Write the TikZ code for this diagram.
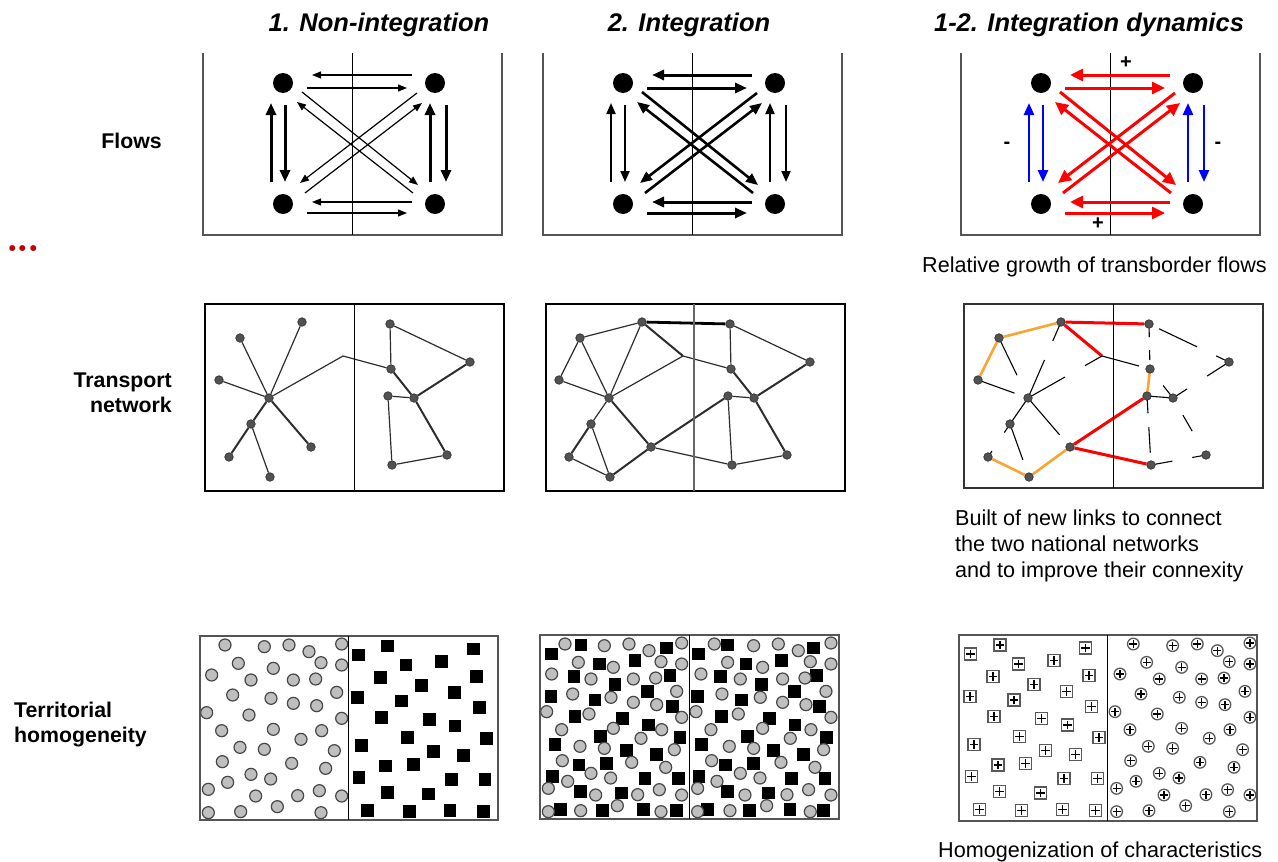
\documentclass[tikz,border=0pt]{standalone}
\usepackage{fontspec}
\setmainfont{Liberation Sans}
\usetikzlibrary{arrows.meta,calc}
\pgfdeclarelayer{edges}
\pgfsetlayers{edges,main}
\definecolor{dred}{RGB}{192,0,0}
\definecolor{orng}{RGB}{250,165,50}
\definecolor{fgray}{RGB}{85,85,85}
\definecolor{egray}{RGB}{45,45,45}
\definecolor{flred}{RGB}{255,0,0}
\definecolor{flblue}{RGB}{0,0,255}

\tikzset{
 frame/.style={draw=fgray, line width=1.4pt},
 midline/.style={draw=black, line width=1pt},
 boxframe/.style={draw=fgray, line width=1.6pt},
 fdot/.style={circle, fill=black, minimum size=20pt, inner sep=0pt},
 tdot/.style={circle, fill=black!68, draw=black!80, line width=0.7pt, minimum size=8.5pt, inner sep=0pt},
 thinflow/.style={line width=1.2pt, -{Triangle[length=9pt,width=7pt]}},
 thickflow/.style={line width=3pt, -{Triangle[length=12pt,width=10pt]}},
 medflow/.style={line width=2.6pt, -{Triangle[length=12pt,width=10pt]}},
 lightflow/.style={line width=2pt, -{Triangle[length=11pt,width=9pt]}},
 redflow/.style={line width=3pt, flred, -{Triangle[length=13pt,width=12pt]}},
 blueflow/.style={line width=2.5pt, flblue, -{Triangle[length=12pt,width=10pt]}},
 tline/.style={draw=egray, line width=1.2pt},
 tthick/.style={draw=egray, line width=2pt},
 tbold/.style={draw=black, line width=2.8pt},
 orline/.style={draw=orng, line width=2.6pt},
 rdline/.style={draw=flred, line width=3pt},
 fragline/.style={draw=black, line width=1.1pt},
 gcirc/.style={fill=black!25, draw=black!72, line width=1.2pt},
 psq/.style={fill=white, draw=black!65, line width=1.3pt},
 pluslines/.style={draw=black, line width=1.3pt},
 hdr/.style={font=\fontsize{25.5}{30}\selectfont\bfseries\itshape, inner sep=0pt},
 rowlab/.style={font=\fontsize{21.3}{25}\selectfont\bfseries, inner sep=0pt},
 caption/.style={font=\fontsize{21.6}{26}\selectfont, inner sep=0pt},
 sign/.style={font=\fontsize{20}{24}\selectfont\bfseries, inner sep=0pt},
}

\newcommand\flowpanel[5]{%
\begin{scope}[shift={(#2,0)}]
\draw[frame] (203,53) -- (203,235) -- (502,235) -- (502,53);
\draw[midline] (352,53) -- (352,235);
\node[fdot] (#1tl) at (283,83) {};
\node[fdot] (#1tr) at (435,83) {};
\node[fdot] (#1bl) at (283,204) {};
\node[fdot] (#1br) at (435,204) {};
\draw[#3] ($(#1tr)+(-23,-8)$) -- ($(#1tl)+(29,-8)$);
\draw[#3] ($(#1tl)+(24,5)$) -- ($(#1tr)+(-28,5)$);
\draw[#3] ($(#1br)+(-23,-2)$) -- ($(#1bl)+(29,-2)$);
\draw[#3] ($(#1bl)+(24,9)$) -- ($(#1br)+(-28,9)$);
\draw[#5] ($(#1bl)+(-12,-22)$) -- ($(#1tl)+(-12,20)$);
\draw[#5] ($(#1tl)+(2,22)$) -- ($(#1bl)+(2,-22)$);
\draw[#5] ($(#1br)+(-5,-22)$) -- ($(#1tr)+(-5,20)$);
\draw[#5] ($(#1tr)+(11,22)$) -- ($(#1br)+(11,-22)$);
\draw[#4] ($(#1br)+(-22,-11)$) -- ($(#1tl)+(14,19)$);
\draw[#4] ($(#1tl)+(19,9)$) -- ($(#1br)+(-17,-19)$);
\draw[#4] ($(#1bl)+(22,-11)$) -- ($(#1tr)+(-13,20)$);
\draw[#4] ($(#1tr)+(-18,10)$) -- ($(#1bl)+(17,-21)$);
\end{scope}}

\newcommand\netnodes[2]{%
\foreach \n/\x/\y in {A/302/322,B/240/338,C/219/380,H/269/398,D/251/424,E/229/457,F/270/477,G/311/447,R1/390/324,R2/470/362,R3/391/369,R4/414/398,R5/388/396,R6/447/455,R7/392/465}
 {\node[tdot] (#1\n) at ({\x+#2},\y) {};}
\coordinate (#1K) at ({343+#2},356);}

\newcommand\netedges[2]{\foreach \a/\b in {#2} {\draw[#1] (\a) -- (\b);}}

\newcommand\Cpts{75/27,193/32,267/27,327/47,425/24,115/82,220/97,363/80,425/87,35/117,153/132,280/132,347/129,98/177,213/187,410/169,280/202,350/209,20/230,147/237,425/247,65/284,220/280,365/284,303/310,120/334,193/340,403/344,67/377,275/382,377/397,153/415,212/429,83/439,25/460,167/480,293/479,358/464,425/480,25/530,122/527,232/512,363/530}
\newcommand\Spts{475/57,563/30,820/39,618/87,725/77,542/124,830/122,665/149,763/170,473/185,605/195,838/214,545/245,688/250,765/270,622/304,860/307,485/329,700/347,790/359,557/390,640/385,477/425,755/430,855/430,562/470,685/474,502/524,628/527,750/524,850/527}

\newcommand\graydots[2]{\foreach \x/\y in \Cpts {\filldraw[gcirc] ({#1+\x/3},{#2+\y/3}) circle[radius=6pt];}}
\newcommand\blacksq[2]{\foreach \x/\y in \Spts {\fill[black] ({#1+\x/3},{#2+\y/3}) ++(-6.3pt,-6.3pt) rectangle ++(12.6pt,12.6pt);}}
\newcommand\plussq[2]{\foreach \x/\y in \Spts {%
 \filldraw[psq] ({#1+\x/3},{#2+\y/3}) ++(-6pt,-6pt) rectangle ++(12pt,12pt);
 \draw[pluslines] ({#1+\x/3},{#2+\y/3}) ++(-4.3pt,0pt) -- ++(8.6pt,0pt) ++(-4.3pt,-4.3pt) -- ++(0pt,8.6pt);}}
\newcommand\pluscirc[2]{\foreach \x/\y in \Cpts {%
 \filldraw[psq] ({#1+\x/3},{#2+\y/3}) circle[radius=5.8pt];
 \draw[pluslines] ({#1+\x/3},{#2+\y/3}) ++(-4pt,0pt) -- ++(8pt,0pt) ++(-4pt,-4pt) -- ++(0pt,8pt);}}

\begin{document}
\begin{tikzpicture}[x=1pt,y=-1pt]
\useasboundingbox (0,0) rectangle (1278,862);

% headers
\node[hdr, anchor=base] (h1) at (379,31) {1. Non-integration};
\node[hdr, anchor=base] (h2) at (689,31) {2. Integration};
\node[hdr, anchor=base] (h3) at (1089,31) {1-2. Integration dynamics};

% row labels
\node[rowlab, anchor=base east] (lflows) at (162,148) {Flows};
\node[rowlab, anchor=base east] (ltrans) at (172,387) {Transport};
\node[rowlab, anchor=base east] (lnet) at (172,412) {network};
\node[rowlab, anchor=base west] (lterr) at (14,717) {Territorial};
\node[rowlab, anchor=base west] (lhom) at (14,742) {homogeneity};
\node[anchor=base west, inner sep=0pt, text=dred, font=\fontfamily{lmr}\fontsize{38}{40}\selectfont\bfseries] (dots) at (7,251) {...};

% captions
\node[caption, anchor=base west] (cap1) at (922,272) {Relative growth of transborder flows};
\node[caption, anchor=base west] (cap2a) at (955,525) {Built of new links to connect};
\node[caption, anchor=base west] (cap2b) at (955,551) {the two national networks};
\node[caption, anchor=base west] (cap2c) at (955,577) {and to improve their connexity};
\node[caption, anchor=base west] (cap3) at (938,857) {Homogenization of characteristics};

% ---------- flows ----------
\flowpanel{p}{0}{thinflow}{thinflow}{thickflow}
\flowpanel{q}{340}{thickflow}{medflow}{lightflow}
\flowpanel{r}{758}{redflow}{redflow}{blueflow}
\node[sign] (plusT) at (1126,63) {+};
\node[sign] (plusB) at (1098,224) {+};
\node[sign] (minusL) at (1007,145) {-};
\node[sign] (minusR) at (1218,145) {-};

% ---------- transport ----------
\draw[boxframe, draw=black] (205,304) rectangle (504,491);
\draw[midline] (354,304) -- (354,491);
\draw[boxframe, draw=black] (546,304) rectangle (845,491);
\draw[midline, draw=black!60, line width=1.6pt] (694,304) -- (694,491);
\draw[boxframe, draw=black!80] (964,304) rectangle (1263,488);
\draw[midline] (1113,304) -- (1113,488);

\netnodes{a}{0}
\netnodes{b}{340}
\netnodes{c}{759}

\begin{pgfonlayer}{edges}
\netedges{tline}{aA/aH,aB/aH,aC/aH,aH/aK,aK/aR3,aR3/aR1,aR1/aR2,aR4/aR5,aR5/aR7,aR7/aR6,aD/aF}
\netedges{tthick}{aH/aD,aD/aE,aH/aG,aR3/aR4,aR4/aR2,aR6/aR4}

\netedges{tline}{bA/bB,bB/bC,bC/bH,bB/bH,bA/bH,bK/bH,bK/bR3,bR1/bR2,bR1/bR3,bR4/bR5,bR5/bR7,bR7/bR6,bH/bD,bD/bF,bE/bF,bG/bR7}
\netedges{tthick}{bA/bK,bR3/bR4,bR4/bR2,bR6/bR4,bH/bG,bD/bE,bF/bG,bG/bR5}
\netedges{tbold}{bA/bR1}

\netedges{orline}{cB/cA,cB/cC,cE/cF,cF/cG,cR3/cR5}
\netedges{rdline}{cA/cR1,cA/cK,cG/cR5,cG/cR7}
\foreach \a/\b/\s/\t in {cA/cH/0/0.25,cH/cA/0/0.5,cB/cH/0/0.62,cC/cH/0/0.73,cH/cK/0/0.5,cK/cH/0/0.23,cK/cR3/0/0.77,cH/cD/0/1,cD/cE/0/0.26,cE/cD/0/0.18,cD/cF/0.08/0.68,cH/cG/0/0.75,cR1/cR3/0/0.29,cR1/cR3/0.58/0.8,cR1/cR2/0.125/0.6,cR1/cR2/0.84/1,cR2/cR4/0/0.39,cR2/cR4/0.75/1,cR4/cR5/0/1,cR3/cR4/0.57/1,cR4/cR6/0.3/0.58,cR5/cR7/0.05/0.25,cR5/cR7/0.45/0.82,cR7/cR6/0.07/0.39,cR7/cR6/0.75/1}
 {\draw[fragline] ($(\a)!\s!(\b)$) -- ($(\a)!\t!(\b)$);}
\end{pgfonlayer}

% ---------- territorial homogeneity ----------
\graydots{200}{636}
\blacksq{200}{636}
\draw[boxframe] (200,636) rectangle (498,820);
\draw[midline] (348,636) -- (348,820);

\blacksq{393.3}{635}
\blacksq{540}{635}
\graydots{540}{635}
\graydots{689.3}{635}
\draw[boxframe] (540,635) rectangle (839,819);
\draw[midline] (689,635) -- (689,819);

\plussq{812.3}{635}
\pluscirc{1108.3}{635}
\draw[boxframe] (959,635) rectangle (1257,821);
\draw[midline] (1107,635) -- (1107,821);
\end{tikzpicture}
\end{document}
